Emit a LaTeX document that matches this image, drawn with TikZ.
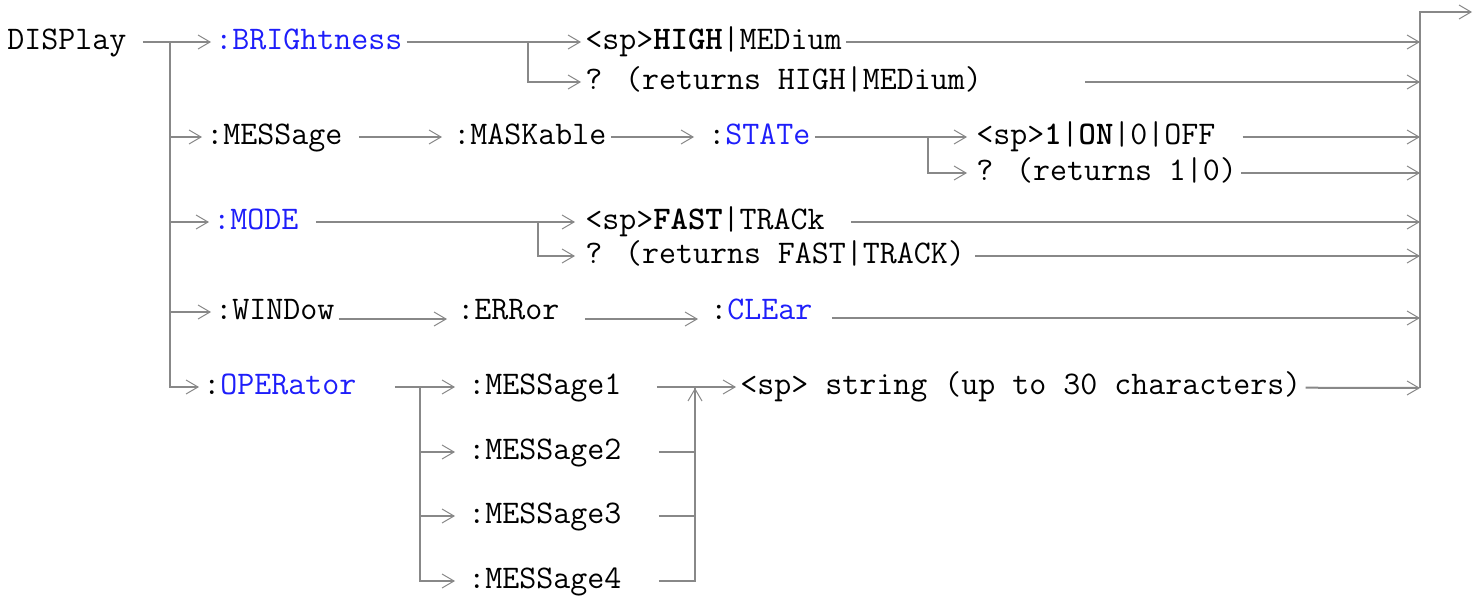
\documentclass[tikz,border=0pt]{standalone}
\usepackage{xcolor}
\usepackage{tikz}
\usetikzlibrary{arrows.meta}
\definecolor{cmdblue}{RGB}{30,30,250}
\definecolor{linegray}{RGB}{136,136,136}

\begin{document}
\begin{tikzpicture}[x=0.5pt, y=-0.5pt, font=\ttfamily\fontsize{16.5}{19}\selectfont, cmd/.style={anchor=west, inner xsep=2pt, inner ysep=0pt, text height=10pt, text depth=3pt}, ln/.style={draw=linegray, line width=1pt}, arr/.style={ln, -{Straight Barb[length=6pt, width=7pt, line width=0.5pt]}}]
\useasboundingbox (0,0) rectangle (1484,600);
% bus points
\coordinate (busL) at (170,42);
\coordinate (busR) at (1420,42);
\coordinate (rbot) at (1420,388);
\coordinate (exit) at (1472,12);
\coordinate (jb) at (528,42);
\coordinate (js) at (928,137);
\coordinate (jm) at (538,222);
\coordinate (jo) at (420,388);
\coordinate (jr) at (695,388);
% row 1
\node[cmd] (display) at (3,42) {DISPlay};
\node[cmd] (bright) at (211,42) {\textcolor{cmdblue}{:BRIGhtness}};
\node[cmd] (high) at (581,42) {<sp>\textbf{HIGH}|MEDium};
\node[cmd] (qhigh) at (581,82) {? (returns HIGH|MEDium)};
% row 2
\node[cmd] (message) at (202,137) {:MESSage};
\node[cmd] (maskable) at (449,137) {:MASKable};
\node[cmd] (state) at (704,137) {:\textcolor{cmdblue}{STATe}};
\node[cmd] (on) at (972,137) {<sp>\textbf{1}|\textbf{ON}|0|OFF};
\node[cmd] (qon) at (972,173) {? (returns 1|0)};
% row 3
\node[cmd] (mode) at (209,222) {\textcolor{cmdblue}{:MODE}};
\node[cmd] (fast) at (581,222) {<sp>\textbf{FAST}|TRACk};
\node[cmd] (qfast) at (581,256) {? (returns FAST|TRACK)};
% row 4
\node[cmd] (window) at (211,312) {:WINDow};
\node[cmd] (error) at (453,312) {:ERRor};
\node[cmd] (clear) at (706,312) {:\textcolor{cmdblue}{CLEar}};
% row 5
\node[cmd] (operator) at (199,387) {:\textcolor{cmdblue}{OPERator}};
\node[cmd] (msg1) at (464,387) {:MESSage1};
\node[cmd] (msg2) at (464,452) {:MESSage2};
\node[cmd] (msg3) at (464,516) {:MESSage3};
\node[cmd] (msg4) at (464,581) {:MESSage4};
\node[cmd] (string) at (736,387) {<sp> string (up to 30 characters)};

\draw[arr, shorten <=6pt] (display) -- (bright);
\draw[arr] (busL) |- (message);
\draw[arr] (busL) |- (mode);
\draw[arr] (busL) |- (window);
\draw[arr] (busL) |- (operator);

\draw[arr] (bright) -- (high);
\draw[arr] (jb) |- (qhigh);
\draw[arr, shorten <=6pt, shorten >=3.5pt] (message) -- (maskable);
\draw[arr, shorten >=5pt] (maskable) -- (state);
\draw[arr, shorten >=2.5pt] (state) -- (on);
\draw[arr, shorten >=2.5pt] (js) |- (qon);
\draw[arr, shorten <=6.5pt, shorten >=3pt] (mode) -- (fast);
\draw[arr, shorten >=3pt] (jm) |- (qfast);
\draw[arr, shorten >=3pt] ([yshift=-3.5pt]window.east) -- ([yshift=-3.5pt]error.west);
\draw[arr, shorten <=10.5pt, shorten >=4pt] ([yshift=-3.5pt]error.east) -- ([yshift=-3.5pt]clear.west);
\draw[arr, shorten <=17pt, shorten >=4.5pt] (operator) -- (msg1);
\draw[arr, shorten >=4.5pt] (jo) |- (msg2);
\draw[arr, shorten >=4.5pt] (jo) |- (msg3);
\draw[arr, shorten >=4.5pt] (jo) |- (msg4);
\draw[arr, shorten <=15.5pt] (msg1) -- (string);
\draw[ln, shorten <=16.5pt] (msg2.east) -| (jr);
\draw[ln, shorten <=16.5pt] (msg3.east) -| (jr);
\draw[arr, shorten <=16.5pt] (msg4.east) -| (jr);

% into the right bus
\draw[arr] (high) -- (high -| busR);
\draw[arr, shorten <=49.5pt] (qhigh) -- (qhigh -| busR);
\draw[arr, shorten <=11.5pt] (on) -- (on -| busR);
\draw[arr] (qon) -- (qon -| busR);
\draw[arr, shorten <=11pt] (fast) -- (fast -| busR);
\draw[arr, shorten <=3pt] (qfast) -- (qfast -| busR);
\draw[arr, shorten <=7.5pt] ([yshift=-3pt]clear.east) -- ([yshift=-3pt]clear.east -| busR);
\draw[arr] (string) -- (rbot);
\draw[arr] (rbot) |- (exit);
\end{tikzpicture}
\end{document}
